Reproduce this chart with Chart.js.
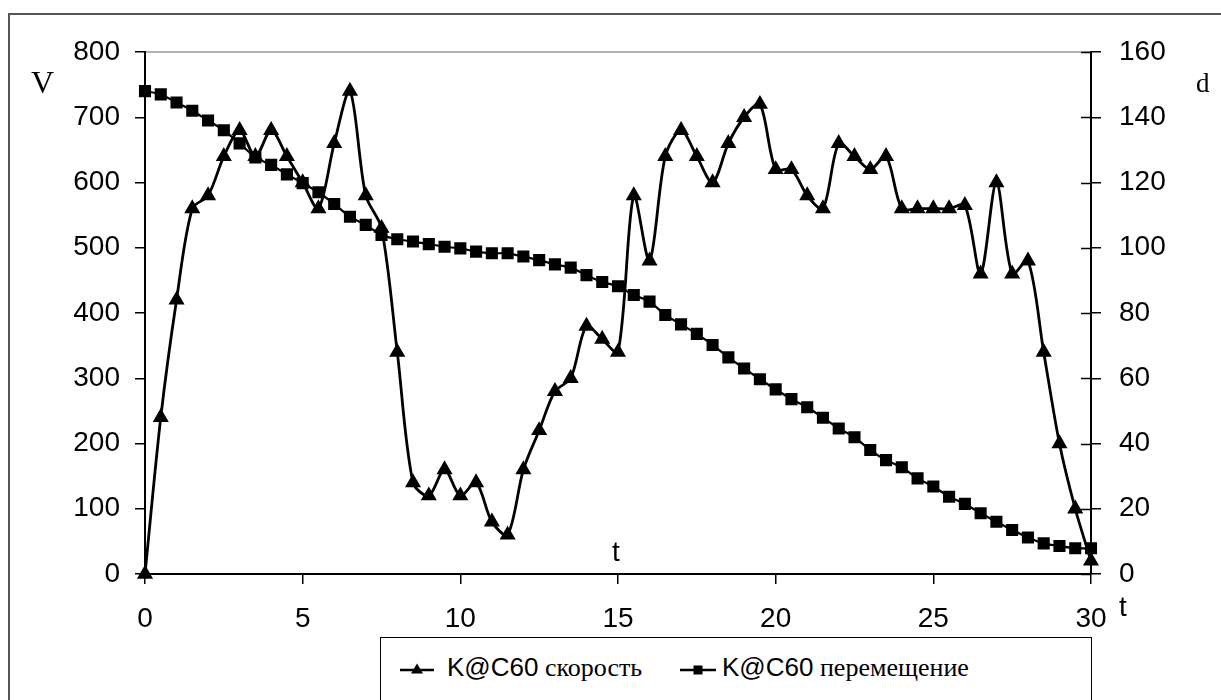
<!DOCTYPE html>
<html>
<head>
<meta charset="utf-8">
<script src="https://cdn.jsdelivr.net/npm/chart.js@4/dist/chart.umd.min.js"></script>
<style>
  html, body { margin: 0; padding: 0; background: #fff; overflow: hidden; }
  #wrap { position: relative; width: 1221px; height: 700px; }
  #frame { position: absolute; left: 8px; top: 13px; width: 1240px; height: 720px; border: 2px solid #555; box-sizing: border-box; }
  canvas { position: absolute; left: 0; top: 0; }
  .lbl { position: absolute; line-height: 1; color: #000; white-space: nowrap; }
  .serif { font-family: 'Liberation Serif', 'DejaVu Serif', serif; }
  .sans  { font-family: 'Liberation Sans', Arial, sans-serif; }
  #legend { position: absolute; left: 380px; top: 637px; width: 712px; height: 90px; border: 1.5px solid #000; box-sizing: border-box; background: #fff; }
</style>
</head>
<body>
<div id="wrap">
  <div id="frame"></div>
  <canvas id="chart" width="1221" height="700"></canvas>
  <div class="lbl serif" style="left:31px;top:66px;font-size:32px">V</div>
  <div class="lbl serif" style="left:1196px;top:70px;font-size:27px">d</div>
  <div class="lbl sans" style="left:1119px;top:593px;font-size:28px">t</div>
  <div class="lbl sans" style="left:612px;top:538px;font-size:28px">t</div>
  <div id="legend"></div>
  <svg class="lbl" style="left:398px;top:660px" width="38" height="20">
    <line x1="2" y1="10" x2="36" y2="10" stroke="#000" stroke-width="2.5"/>
    <polygon points="19,3.5 25,13.5 13,13.5" fill="#000"/>
  </svg>
  <div class="lbl" style="left:447px;top:654px;font-size:26px"><span class="sans">K@C60</span> <span class="serif">скорость</span></div>
  <svg class="lbl" style="left:678px;top:660px" width="40" height="20">
    <line x1="2" y1="10" x2="38" y2="10" stroke="#000" stroke-width="2.5"/>
    <rect x="15.5" y="5.5" width="9" height="9" fill="#000"/>
  </svg>
  <div class="lbl" style="left:722px;top:654px;font-size:26px"><span class="sans">K@C60</span> <span class="serif">перемещение</span></div>
</div>
<script>
/* ── data ──────────────────────────────────────────────────── */
const T = [
  0, 0.5, 1, 1.5, 2, 2.5, 3, 3.5, 4, 4.5, 5, 5.5, 6, 6.5, 7, 7.5,
  8, 8.5, 9, 9.5, 10, 10.5, 11, 11.5, 12, 12.5, 13, 13.5, 14, 14.5, 15,
  15.5, 16, 16.5, 17, 17.5, 18, 18.5, 19, 19.5, 20, 20.5, 21, 21.5, 22, 22.5,
  23, 23.5, 24, 24.5, 25, 25.5, 26, 26.5, 27, 27.5, 28, 28.5, 29, 29.5, 30
];

// K@C60 скорость (left axis, V)
const SPEED = [
  0, 240, 420, 560, 580, 640, 680, 640, 680, 640, 600, 560, 660, 740, 580, 530,
  340, 140, 120, 160, 120, 140, 80, 60, 160, 220, 280, 300, 380, 360, 340,
  580, 480, 640, 680, 640, 600, 660, 700, 720, 620, 620, 580, 560, 660, 640,
  620, 640, 560, 560, 560, 560, 565, 460, 600, 460, 480, 340, 200, 100, 20
];

// K@C60 перемещение (right axis, d)
const DISP = [
  148, 147, 144.5, 142, 139, 136, 132, 127.7, 125.4, 122.5, 119.8, 117, 113.4, 109.5, 107, 103.9,
  102.6, 101.9, 101.1, 100.3, 99.8, 98.8, 98.3, 98.3, 97.3, 96.2, 94.9, 93.9, 91.6, 89.5, 88.2,
  85.5, 83.5, 79.4, 76.5, 73.6, 70.2, 66.4, 63, 59.7, 56.6, 53.6, 51.1, 47.9, 44.6, 41.9,
  38, 34.9, 32.7, 29.3, 26.8, 23.7, 21.5, 18.6, 16, 13.5, 11.2, 9.4, 8.6, 7.9, 7.9
];

const X_TICKS  = [0, 5, 10, 15, 20, 25, 30];
const V_TICKS  = [0, 100, 200, 300, 400, 500, 600, 700, 800];
const D_TICKS  = [0, 20, 40, 60, 80, 100, 120, 140, 160];

/* ── style ─────────────────────────────────────────────────── */
const FONT = { family: "'Liberation Sans', Arial, sans-serif", size: 28 };
const TICK_LEN = 10;

function fixTicks(values) {
  return scale => { scale.ticks = values.map(v => ({ value: v })); };
}

function axisGrid() {
  return { drawOnChartArea: false, drawTicks: true, tickLength: TICK_LEN, color: '#000', lineWidth: 1.5 };
}

// gray plot-area frame, then inner half of right-axis ticks
const plotFrame = {
  id: 'plotFrame',
  beforeDraw(chart) {
    const { ctx, chartArea: a } = chart;
    ctx.save();
    ctx.strokeStyle = '#999';
    ctx.lineWidth = 1.5;
    ctx.strokeRect(a.left, a.top, a.right - a.left, a.bottom - a.top);
    ctx.restore();
  },
  afterDraw(chart) {
    const { ctx, chartArea: a } = chart;
    const s = chart.scales.y1;
    ctx.save();
    ctx.strokeStyle = '#000';
    ctx.lineWidth = 1.5;
    D_TICKS.forEach(v => {
      const y = Math.round(s.getPixelForValue(v)) + 0.5;
      ctx.beginPath();
      ctx.moveTo(a.right - TICK_LEN, y);
      ctx.lineTo(a.right, y);
      ctx.stroke();
    });
    ctx.restore();
  },
};

new Chart(document.getElementById('chart'), {
  type: 'line',
  data: {
    datasets: [
      {
        label: 'K@C60 скорость',
        data: T.map((t, i) => ({ x: t, y: SPEED[i] })),
        yAxisID: 'y',
        borderColor: '#000',
        backgroundColor: '#000',
        borderWidth: 2.8,
        pointStyle: 'triangle',
        pointRadius: 6.5,
        tension: 0.3,
        clip: false,
      },
      {
        label: 'K@C60 перемещение',
        data: T.map((t, i) => ({ x: t, y: DISP[i] })),
        yAxisID: 'y1',
        borderColor: '#000',
        backgroundColor: '#000',
        borderWidth: 2.2,
        pointStyle: 'rect',
        pointRadius: 7,
        tension: 0.3,
        clip: false,
      },
    ],
  },
  options: {
    responsive: false,
    animation: false,
    layout: { padding: { top: 52, left: 0, right: 0, bottom: 0 } },
    plugins: { legend: { display: false }, tooltip: { enabled: false } },
    scales: {
      x: {
        type: 'linear', min: 0, max: 30,
        afterBuildTicks: fixTicks(X_TICKS),
        afterFit: s => { s.height = 126; },
        ticks: { color: '#000', font: FONT, padding: 18, maxRotation: 0 },
        grid: axisGrid(),
        border: { color: '#000', width: 2 },
      },
      y: {
        position: 'left', min: 0, max: 800,
        afterBuildTicks: fixTicks(V_TICKS),
        afterFit: s => { s.width = 145; },
        ticks: { color: '#000', font: FONT, padding: 15 },
        grid: axisGrid(),
        border: { color: '#000', width: 2 },
      },
      y1: {
        position: 'right', min: 0, max: 160,
        afterBuildTicks: fixTicks(D_TICKS),
        afterFit: s => { s.width = 130; },
        ticks: { color: '#000', font: FONT, padding: 18 },
        grid: axisGrid(),
        border: { color: '#000', width: 2 },
      },
    },
  },
  plugins: [plotFrame],
});
</script>
</body>
</html>
